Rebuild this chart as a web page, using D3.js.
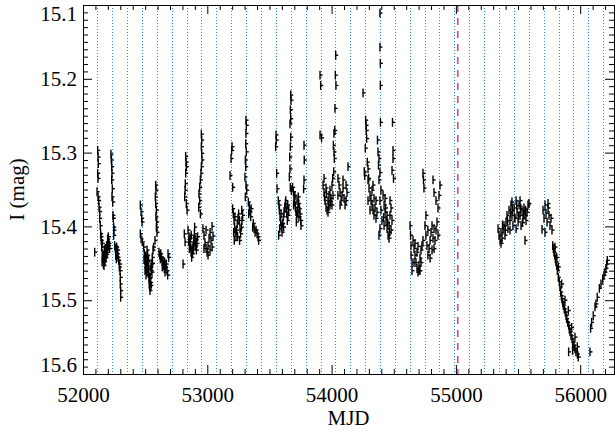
<!DOCTYPE html>
<html><head><meta charset="utf-8">
<script src="https://cdn.jsdelivr.net/npm/d3@7"></script>
<style>body{margin:0;background:#fff}svg{display:block}</style>
</head><body>
<svg id="c" width="615" height="432"></svg>
<script>
// ---- data: [MJD, I mag] ----
const season1 = [[52094,15.435],
[52118,15.297],[52121,15.306],[52123,15.315],[52118,15.328],[52121,15.335],[52113,15.353],[52121,15.360],[52126,15.365],[52129,15.374],[52134,15.380],[52134,15.389],[52139,15.399],
[52142,15.410],[52147,15.419],[52150,15.428],[52155,15.437],[52161,15.444],[52163,15.451],[52169,15.453],[52174,15.448],[52177,15.442],[52182,15.437],[52188,15.432],[52190,15.426],[52196,15.428],[52201,15.421],[52204,15.414],[52209,15.423],[52214,15.430],[52153,15.448],[52166,15.439],[52179,15.430],[52193,15.435],[52155,15.423],[52171,15.432],[52185,15.442],[52198,15.417],[52145,15.414],
[52158,15.441],[52168,15.446],[52180,15.436],[52191,15.438],[52206,15.426],
[52225,15.302],[52228,15.310],[52231,15.319],[52233,15.328],[52231,15.337],[52236,15.349],[52233,15.360],[52239,15.367],[52241,15.385],[52244,15.389],[52247,15.401],[52249,15.405],[52247,15.412],
[52255,15.426],[52260,15.430],[52265,15.435],[52271,15.428],[52276,15.437],[52282,15.442],[52263,15.439],[52268,15.444],[52279,15.432],[52287,15.446],
[52295,15.451],[52298,15.460],[52300,15.469],[52300,15.478],[52303,15.487],[52303,15.496],[52292,15.455]];
const season2 = [[52461,15.371],[52467,15.380],[52472,15.389],[52475,15.394],[52461,15.410],[52467,15.417],[52477,15.421],
[52488,15.428],[52493,15.437],[52496,15.446],[52501,15.451],[52504,15.457],[52509,15.442],[52515,15.432],[52517,15.448],[52523,15.455],[52525,15.464],[52531,15.471],[52533,15.478],[52536,15.482],[52539,15.487],[52544,15.476],[52549,15.460],[52552,15.451],[52557,15.442],[52563,15.432],[52568,15.428],[52499,15.460],[52507,15.466],[52520,15.439],[52528,15.446],[52541,15.469],[52555,15.462],[52547,15.480],[52512,15.453],
[52491,15.445],[52503,15.440],[52514,15.462],[52522,15.447],[52530,15.458],[52538,15.470],[52546,15.455],[52559,15.450],
[52585,15.344],[52587,15.351],[52582,15.360],[52585,15.369],[52590,15.378],[52587,15.387],[52593,15.394],[52590,15.401],[52595,15.408],[52579,15.419],
[52611,15.435],[52617,15.439],[52622,15.444],[52630,15.442],[52636,15.448],[52644,15.446],[52649,15.453],[52654,15.457],[52660,15.462],[52665,15.455],[52670,15.451],[52676,15.460],[52681,15.466],[52684,15.437],[52689,15.442],[52657,15.448],[52638,15.455],[52625,15.437]];
const season3 = [[52805,15.451],
[52826,15.305],[52829,15.313],[52831,15.319],[52826,15.328],[52823,15.342],[52821,15.351],[52818,15.360],[52831,15.369],[52837,15.378],[52815,15.410],[52821,15.421],
[52845,15.405],[52853,15.414],[52858,15.421],[52864,15.428],[52869,15.435],[52874,15.442],[52880,15.437],[52885,15.426],[52890,15.419],[52896,15.410],[52901,15.417],[52906,15.426],[52912,15.432],[52917,15.423],[52922,15.414],[52871,15.412],[52888,15.432],[52855,15.430],[52898,15.401],
[52850,15.420],[52862,15.416],[52877,15.430],[52893,15.424],[52909,15.418],
[52952,15.275],[52955,15.283],[52952,15.292],[52955,15.301],[52957,15.310],[52952,15.319],[52949,15.328],[52944,15.337],[52939,15.347],[52933,15.356],[52939,15.365],[52931,15.374],[52944,15.383],
[52965,15.403],[52973,15.412],[52981,15.422],[52990,15.430],[52998,15.435],[53006,15.426],[53014,15.416],[53022,15.408],[53030,15.419],[53038,15.428],[53046,15.413],[52973,15.430],[52990,15.405],[53006,15.439],[53022,15.432],[53038,15.400]];
const season4 = [[53199,15.292],[53191,15.308],[53183,15.331],[53204,15.347],[53196,15.297],
[53204,15.376],[53209,15.383],[53215,15.392],[53220,15.401],[53225,15.408],[53231,15.414],[53236,15.405],[53241,15.396],[53247,15.389],[53252,15.383],[53257,15.392],[53263,15.403],[53268,15.410],[53274,15.401],[53279,15.392],[53284,15.385],[53212,15.408],[53222,15.387],[53244,15.414],[53260,15.419],[53277,15.378],[53217,15.419],
[53311,15.256],[53314,15.263],[53311,15.274],[53309,15.288],[53314,15.299],[53306,15.310],[53309,15.319],[53303,15.333],[53311,15.344],[53317,15.351],[53306,15.360],
[53330,15.367],[53338,15.374],[53344,15.380],[53349,15.387],[53333,15.383],[53352,15.376],
[53365,15.401],[53376,15.403],[53384,15.408],[53392,15.405],[53400,15.410],[53408,15.414],[53370,15.396],[53413,15.419]];
const season5 = [[53553,15.276],[53555,15.283],[53550,15.292],[53558,15.328],[53561,15.349],
[53571,15.365],[53577,15.371],[53580,15.378],[53585,15.387],[53590,15.394],[53596,15.401],[53601,15.408],[53606,15.396],[53612,15.387],[53617,15.380],[53623,15.374],[53628,15.369],[53633,15.376],[53639,15.383],[53644,15.392],[53649,15.385],[53655,15.378],[53582,15.403],[53593,15.383],[53614,15.401],[53631,15.365],[53647,15.371],[53574,15.412],
[53671,15.222],[53673,15.229],[53668,15.242],[53671,15.254],[53665,15.261],[53671,15.279],[53668,15.292],[53663,15.306],[53665,15.322],[53660,15.333],[53668,15.347],[53676,15.351],
[53686,15.347],[53692,15.353],[53697,15.360],[53703,15.367],[53708,15.374],[53713,15.380],[53719,15.387],[53724,15.380],[53730,15.374],[53735,15.369],[53740,15.376],[53746,15.383],[53751,15.392],[53705,15.358],[53722,15.365],[53737,15.387],[53694,15.371],[53716,15.394],[53754,15.399],[53732,15.360],
[53778,15.290],[53780,15.310],[53778,15.337],[53775,15.349]];
const season6 = [[53907,15.195],[53912,15.209],[53907,15.276],[53919,15.280],
[53931,15.344],[53939,15.354],[53947,15.365],[53955,15.374],[53963,15.378],[53971,15.365],[53979,15.358],[53987,15.351],[53995,15.362],[54003,15.371],[54011,15.358],[53939,15.335],[53955,15.348],[53971,15.381],[53987,15.371],[54003,15.344],
[53943,15.360],[53959,15.356],[53975,15.372],[53991,15.366],
[54033,15.168],[54030,15.195],[54035,15.209],[54027,15.240],[54025,15.270],[54019,15.274],[54014,15.290],[54019,15.299],[54022,15.308],[54017,15.326],[54009,15.335],
[54051,15.335],[54060,15.344],[54068,15.354],[54076,15.365],[54084,15.358],[54092,15.348],[54100,15.362],[54108,15.371],[54116,15.365],[54124,15.354],[54068,15.371],[54092,15.337],[54116,15.344],[54051,15.358],[54132,15.319]];
const season7 = [[54253,15.219],
[54274,15.256],[54277,15.263],[54279,15.270],[54282,15.281],[54271,15.294],[54263,15.326],[54266,15.331],[54287,15.313],[54293,15.322],[54298,15.335],
[54293,15.337],[54301,15.348],[54309,15.358],[54317,15.365],[54325,15.371],[54333,15.378],[54341,15.385],[54349,15.375],[54357,15.365],[54365,15.381],[54309,15.378],[54325,15.351],[54341,15.362],[54357,15.389],[54293,15.365],[54333,15.344],
[54369,15.283],[54373,15.299],
[54389,15.111],[54389,15.157],[54392,15.179],[54392,15.209],[54393,15.259],
[54381,15.308],[54377,15.317],[54389,15.327],[54381,15.337],[54397,15.351],[54389,15.365],[54397,15.378],[54405,15.392],[54389,15.403],[54381,15.412],
[54414,15.358],[54422,15.371],[54430,15.381],[54438,15.392],[54446,15.403],[54454,15.412],[54462,15.399],[54470,15.385],[54478,15.375],[54486,15.392],[54430,15.362],[54446,15.385],[54462,15.416],[54478,15.405],[54422,15.399],[54470,15.365],
[54418,15.388],[54434,15.375],[54450,15.395],[54466,15.408],
[54490,15.259],[54494,15.297],[54494,15.308],[54486,15.324],[54498,15.335]];
const season8 = [[54631,15.399],[54635,15.412],[54639,15.426],[54639,15.439],[54647,15.449],[54647,15.460],
[54655,15.419],[54663,15.430],[54671,15.439],[54679,15.449],[54687,15.457],[54695,15.462],[54703,15.453],[54711,15.443],[54719,15.432],[54727,15.426],[54735,15.419],[54671,15.423],[54687,15.435],[54703,15.460],[54719,15.449],[54663,15.449],[54695,15.427],[54711,15.460],
[54735,15.328],[54739,15.337],[54743,15.348],
[54751,15.399],[54759,15.412],[54767,15.426],[54775,15.439],[54784,15.430],[54792,15.419],[54800,15.408],[54808,15.399],[54816,15.416],[54824,15.430],[54832,15.419],[54840,15.405],[54848,15.394],[54759,15.385],[54775,15.405],[54792,15.443],[54808,15.432],[54824,15.403],[54856,15.412],
[54816,15.337],[54824,15.354],[54840,15.365],[54856,15.375],[54864,15.358],[54872,15.344]];
const season9 = [[55339,15.403],[55347,15.412],[55355,15.419],[55363,15.408],[55371,15.416],[55379,15.405],[55387,15.399],[55395,15.412],[55403,15.394],[55411,15.385],[55419,15.403],[55427,15.378],[55435,15.392],[55443,15.371],[55451,15.385],[55459,15.399],[55468,15.375],[55476,15.389],[55484,15.365],[55492,15.381],[55500,15.394],[55508,15.371],[55516,15.385],[55524,15.399],[55532,15.378],[55540,15.389],[55548,15.375],[55556,15.385],[55564,15.392],[55572,15.381],[55580,15.371],[55588,15.369],[55556,15.419],[55363,15.423],[55435,15.405],[55484,15.403],[55516,15.365],[55451,15.367],
[55375,15.398],[55398,15.405],[55415,15.392],[55440,15.382],[55455,15.378],[55470,15.388],[55490,15.372],[55505,15.386],[55520,15.376],[55535,15.395],[55545,15.383],[55560,15.378]];
const season10 = [[55693,15.404],[55701,15.378],[55709,15.389],[55717,15.371],[55725,15.382],[55733,15.394],[55741,15.375],[55749,15.385],[55757,15.399],[55765,15.389],[55773,15.405],[55717,15.408],[55741,15.369],
[55779,15.426],[55784,15.430],[55789,15.435],[55795,15.439],[55800,15.444],[55805,15.448],[55811,15.453],[55816,15.460],[55824,15.469],[55832,15.475],[55837,15.482],[55843,15.489],[55848,15.494],[55853,15.498],[55859,15.503],[55864,15.507],[55872,15.512],[55880,15.516],[55886,15.521],[55891,15.525],[55899,15.530],[55907,15.534],[55912,15.539],[55918,15.543],[55926,15.548],[55934,15.552],[55942,15.557],[55950,15.561],[55958,15.566],[55966,15.570],[55977,15.573],[55907,15.570],[55939,15.568],[55797,15.428],[55811,15.442],[55824,15.455],[55851,15.478],[55877,15.500],[55904,15.514],[55931,15.537],[55958,15.550],[55939,15.563],[55977,15.563],[55985,15.577]];
const season11 = [[56079,15.570],[56084,15.538],[56092,15.530],[56105,15.521],[56119,15.509],[56127,15.505],[56137,15.496],[56154,15.484],[56167,15.478],[56181,15.471],[56191,15.466],[56199,15.462],[56207,15.457],[56213,15.451],[56218,15.446]];

const cycleEpochs = [52115,52235,52354,52474,52594,52713,52833,52953,53073,53192,53312,53432,53551,53671,53791,53911,54030,54150,54270,54389,54509,54629,54748,54868,54988,55108,55227,55347,55467,55586,55706,55826,55945,56065,56185];
const eventMJD = 55015;
const magErr = 0.006;
const xTickValues = [52000,53000,54000,55000,56000];
const yTickValues = [15.1,15.2,15.3,15.4,15.5,15.6];
const xLabel = "MJD", yLabel = "I (mag)";

// ---- drawing ----
const allPoints = [].concat(season1,season2,season3,season4,season5,season6,season7,season8,season9,season10,season11);
const L=83, R=614, T=5, B=374;
const x = d3.scaleLinear().domain([52000,56272]).range([L,R]);
const y = d3.scaleLinear().domain([15.1,15.6]).range([T,B]);
const svg = d3.select("#c");
const FONT = "'Liberation Serif','Times New Roman',serif";

// cycle lines
svg.append("g").attr("class","cycles").selectAll("line").data(cycleEpochs).join("line")
  .attr("x1",d=>Math.round(x(d))+0.5).attr("x2",d=>Math.round(x(d))+0.5)
  .attr("y1",T).attr("y2",B)
  .attr("stroke","#2b8ff0").attr("stroke-width",1).attr("stroke-dasharray","1,2");
// event line
svg.append("line").attr("x1",x(eventMJD)).attr("x2",x(eventMJD)).attr("y1",T).attr("y2",B)
  .attr("stroke","#e8407a").attr("stroke-width",1.6).attr("stroke-dasharray","7,6");

// points with error bars
const pg = svg.append("g").attr("stroke","#000").attr("stroke-width",1.4);
pg.selectAll("line.e").data(allPoints).join("line").attr("class","e")
  .attr("x1",d=>x(d[0])).attr("x2",d=>x(d[0]))
  .attr("y1",d=>y(d[1]-magErr)).attr("y2",d=>y(d[1]+magErr));
pg.selectAll("line.p").data(allPoints).join("line").attr("class","p")
  .attr("x1",d=>x(d[0])).attr("x2",d=>x(d[0])+2.5)
  .attr("y1",d=>y(d[1])).attr("y2",d=>y(d[1]));

// axes
const xMinor = d3.range(52000,56272,100).filter(v=>!xTickValues.includes(v));
const yMinor = d3.range(0,51).map(i=>+(15.1+i*0.01).toFixed(2)).filter(v=>!yTickValues.includes(v));
function styleAxis(g){ g.selectAll("path,line").attr("stroke","#000").attr("stroke-width",1); g.selectAll("text").attr("font-family",FONT).attr("font-size",21).attr("fill","#000"); }
const axes = svg.append("g");
const bottom = axes.append("g").attr("transform",`translate(0,${B})`).call(d3.axisBottom(x).tickValues(xTickValues).tickSize(-9).tickSizeOuter(0).tickPadding(13).tickFormat(d3.format("d")));
axes.append("g").attr("transform",`translate(0,${B})`).call(d3.axisBottom(x).tickValues(xMinor).tickSize(-5).tickSizeOuter(0).tickFormat(""));
axes.append("g").attr("transform",`translate(0,${T})`).call(d3.axisTop(x).tickValues(xTickValues).tickSize(-9).tickSizeOuter(0).tickFormat(""));
axes.append("g").attr("transform",`translate(0,${T})`).call(d3.axisTop(x).tickValues(xMinor).tickSize(-5).tickSizeOuter(0).tickFormat(""));
const left = axes.append("g").attr("transform",`translate(${L},0)`).call(d3.axisLeft(y).tickValues(yTickValues).tickSize(-9).tickSizeOuter(0).tickPadding(6).tickFormat(d3.format(".1f")));
axes.append("g").attr("transform",`translate(${L},0)`).call(d3.axisLeft(y).tickValues(yMinor).tickSize(-5).tickSizeOuter(0).tickFormat(""));
axes.append("g").attr("transform",`translate(${R},0)`).call(d3.axisRight(y).tickValues(yTickValues).tickSize(-9).tickSizeOuter(0).tickFormat(""));
axes.append("g").attr("transform",`translate(${R},0)`).call(d3.axisRight(y).tickValues(yMinor).tickSize(-5).tickSizeOuter(0).tickFormat(""));
styleAxis(axes);
// keep first/last y labels inside the frame like the original
left.selectAll(".tick text").attr("dy",d=> d===15.1 ? "0.75em" : d===15.6 ? "-0.1em" : "0.32em");

svg.append("text").attr("x",(L+R)/2).attr("y",425).attr("text-anchor","middle")
  .attr("font-family",FONT).attr("font-size",21).text(xLabel);
svg.append("text").attr("transform",`translate(24,${(T+B)/2}) rotate(-90)`).attr("text-anchor","middle")
  .attr("font-family",FONT).attr("font-size",21).text(yLabel);
</script>
</body></html>
